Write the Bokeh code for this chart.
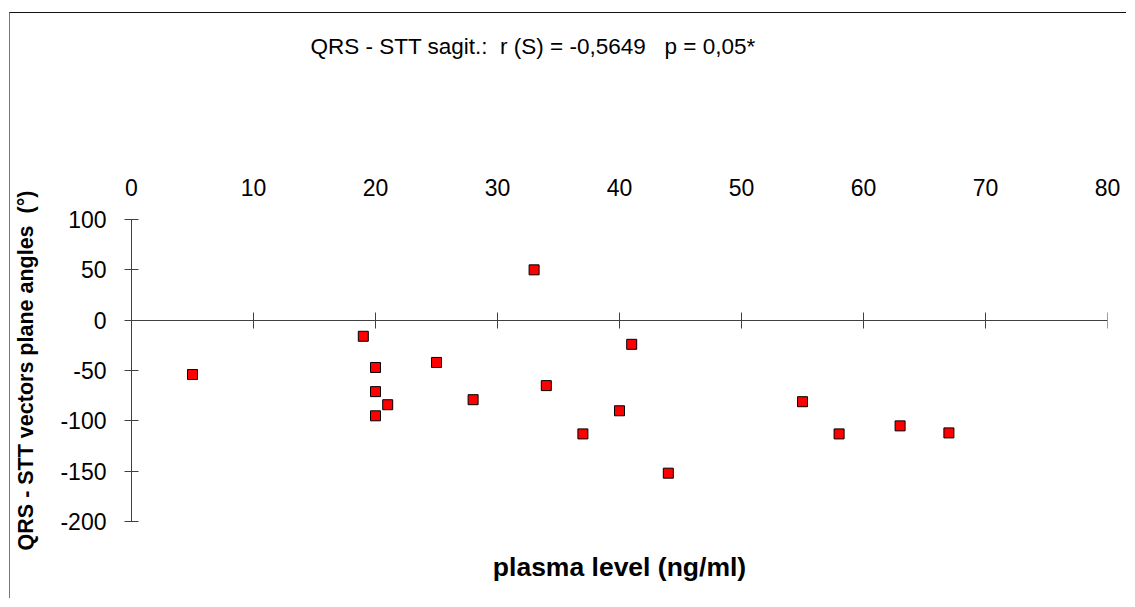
from bokeh.plotting import figure
from bokeh.models import (LinearAxis, FixedTicker, CustomJSTickFormatter, Range1d,
                          ColumnDataSource)
from bokeh.embed import file_html
from bokeh.resources import INLINE

# ---- data ----
plasma_level = [5, 19, 20, 20, 20, 21, 25, 28, 33, 34, 37, 40, 41, 44, 55, 58, 63, 67]
angle_deg = [-54, -16, -47, -71, -95, -84, -42, -79, 50, -65, -113, -90, -24, -152, -81, -113, -105, -112]
x_ticks = [0, 10, 20, 30, 40, 50, 60, 70, 80]
y_ticks = [-200, -150, -100, -50, 0, 50, 100]
title_text = "QRS - STT sagit.:\u00a0 r (S) = -0,5649\u00a0\u00a0 p = 0,05*"
x_label = "plasma level (ng/ml)"
y_label = "QRS - STT vectors plane angles\u00a0 (°)"

FONT = "Liberation Sans"
AX = "#404040"

p = figure(width=1117, height=586,
           x_range=Range1d(0, 80), y_range=Range1d(-200, 100),
           output_backend="svg", toolbar_location=None,
           x_axis_location=None,
           min_border_left=121, min_border_right=20,
           min_border_top=206, min_border_bottom=78,
           margin=(12, 0, 0, 9),
           styles={"border-left": "1px solid #777", "border-top": "1px solid #111"})
p.grid.visible = False
p.outline_line_color = None
p.background_fill_color = "white"
p.border_fill_color = "white"

# chart title
p.title.text = title_text
p.title.align = "left"
p.title.offset = 179
p.title.standoff = 0
p.title.text_font = FONT
p.title.text_font_size = "22.5px"
p.title.text_font_style = "normal"
p.title.text_color = "black"

plain = CustomJSTickFormatter(code="return tick.toString()")
blank = CustomJSTickFormatter(code="return ''")

# y axis
ya = p.yaxis[0]
ya.ticker = FixedTicker(ticks=y_ticks)
ya.formatter = plain
ya.major_tick_in = 7
ya.major_tick_out = 7
ya.minor_tick_line_color = None
ya.axis_line_color = AX
ya.major_tick_line_color = AX
ya.major_label_text_font = FONT
ya.major_label_text_font_size = "23px"
ya.major_label_text_color = "black"
ya.major_label_standoff = 18
ya.axis_label = y_label
ya.axis_label_text_font = FONT
ya.axis_label_text_font_size = "21.5px"
ya.axis_label_text_font_style = "bold"
ya.axis_label_text_color = "black"
ya.axis_label_standoff = 19

# x tick labels on top
xa_top = LinearAxis(ticker=FixedTicker(ticks=x_ticks), formatter=plain,
                    axis_line_color=None, major_tick_line_color=None,
                    minor_tick_line_color=None, major_tick_in=0, major_tick_out=0,
                    major_label_standoff=24,
                    major_label_text_font=FONT, major_label_text_font_size="23px",
                    major_label_text_color="black")
p.add_layout(xa_top, "above")

# invisible spacer between the tick labels and the title
spacer = LinearAxis(ticker=FixedTicker(ticks=x_ticks), formatter=blank,
                    axis_line_color=None, major_tick_line_color="white",
                    minor_tick_line_color=None, major_tick_in=0, major_tick_out=117,
                    major_label_standoff=0, major_label_text_font_size="0px")
p.add_layout(spacer, "above")

# x axis line crossing at y = 0
xa0 = LinearAxis(fixed_location=0, ticker=FixedTicker(ticks=x_ticks),
                 major_tick_in=8, major_tick_out=8,
                 minor_tick_line_color=None,
                 axis_line_color=AX, major_tick_line_color=AX,
                 formatter=blank)
p.add_layout(xa0, "below")

# x axis title
xl = LinearAxis(ticker=FixedTicker(ticks=[]),
                axis_line_color=None, major_tick_line_color=None,
                minor_tick_line_color=None, major_tick_in=0, major_tick_out=0,
                major_label_standoff=0,
                axis_label=x_label, axis_label_text_font=FONT,
                axis_label_text_font_size="26.5px", axis_label_text_font_style="bold",
                axis_label_text_color="black", axis_label_standoff=30)
p.add_layout(xl, "below")

src = ColumnDataSource(dict(x=plasma_level, y=angle_deg))
p.scatter("x", "y", source=src, marker="square", size=10,
          fill_color="#ff0000", line_color="black", line_width=1)

open("out.html", "w").write(file_html(p, INLINE))
